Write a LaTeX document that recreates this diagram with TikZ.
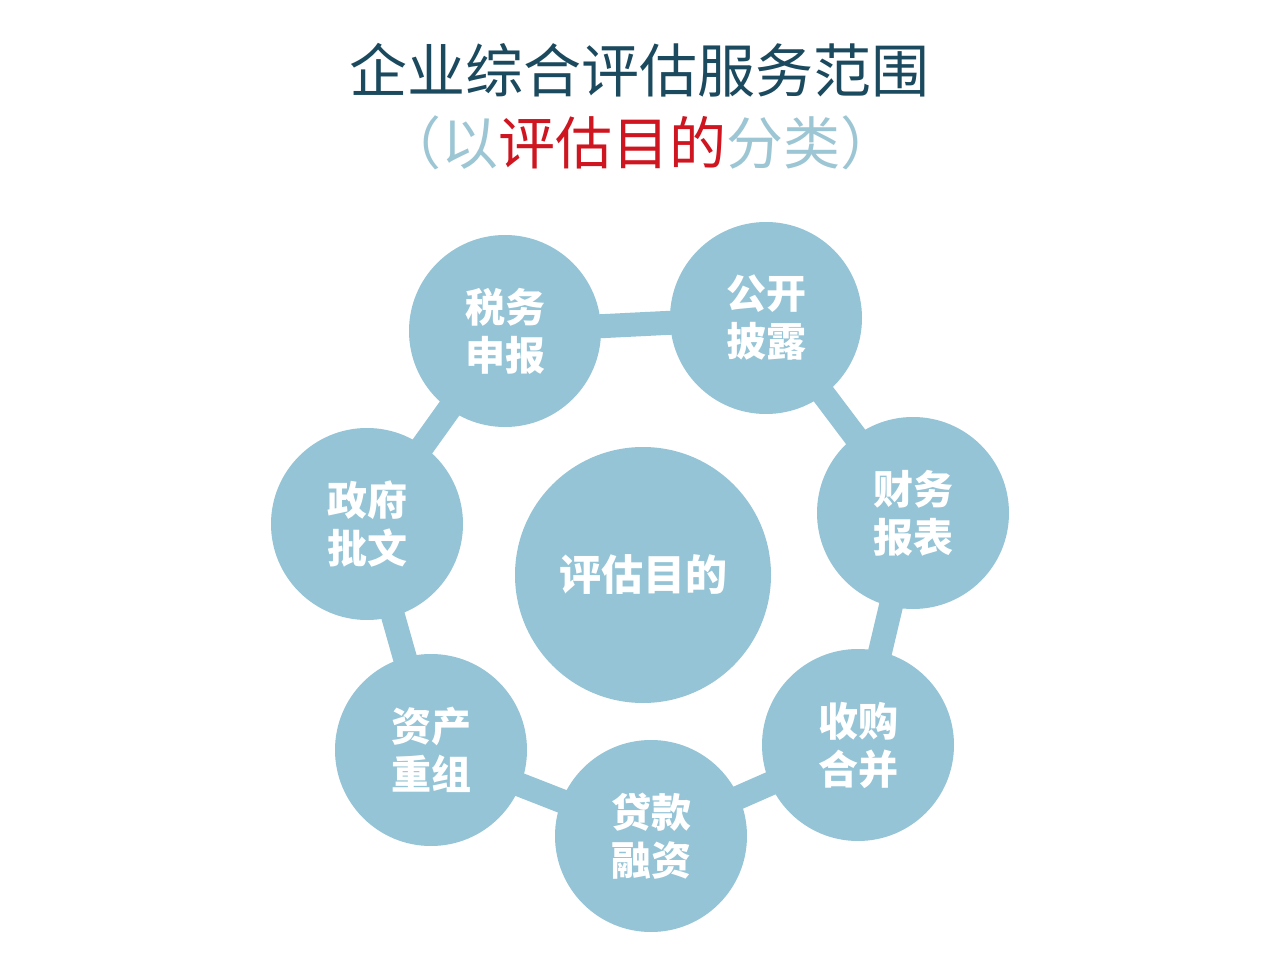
\documentclass[tikz,border=0pt]{standalone}
\usepackage{fontspec}
\newfontfamily\cjk{Noto Sans CJK SC}
\definecolor{circ}{HTML}{94C4D5}
\definecolor{titlec}{HTML}{1B4A5E}
\definecolor{subc}{HTML}{9DC6D4}
\definecolor{redc}{HTML}{CE1520}
\begin{document}
\begin{tikzpicture}[x=1pt,y=-1pt,
  item/.style={circle, fill=circ, minimum size=192pt, inner sep=0pt, text=white,
    font=\cjk\bfseries\fontsize{40}{48}\selectfont, align=center},
  hub/.style={circle, fill=circ, minimum size=256pt, inner sep=0pt, text=white,
    font=\cjk\bfseries\fontsize{42}{48}\selectfont},
  link/.style={draw=circ, line width=24pt}]
\useasboundingbox[fill=white] (0,0) rectangle (1280,976);
\node[font=\cjk\fontsize{58}{62}\selectfont, text=titlec] (title) at (639,70) {企业综合评估服务范围};
\node[font=\cjk\fontsize{57}{62}\selectfont] (sub) at (641,143) {\textcolor{subc}{（以}\textcolor{redc}{评估目的}\textcolor{subc}{分类）}};
\coordinate (ctax) at (505,331);
\coordinate (cpub) at (766,318);
\coordinate (cfin) at (913,513);
\coordinate (cma) at (858,745);
\coordinate (cloan) at (651,836);
\coordinate (casset) at (431,750);
\coordinate (cgov) at (367,524);
\draw[link] (ctax) -- (cpub) -- (cfin) -- (cma) -- (cloan) -- (casset) -- (cgov) -- cycle;
\node[hub] (hubn) at (643,575) {评估目的};
\node[item] (tax) at (ctax) {税务\\申报};
\node[item] (pub) at (cpub) {公开\\披露};
\node[item] (fin) at (cfin) {财务\\报表};
\node[item] (ma) at (cma) {收购\\合并};
\node[item] (loan) at (cloan) {贷款\\融资};
\node[item] (asset) at (casset) {资产\\重组};
\node[item] (gov) at (cgov) {政府\\批文};
\end{tikzpicture}
\end{document}
